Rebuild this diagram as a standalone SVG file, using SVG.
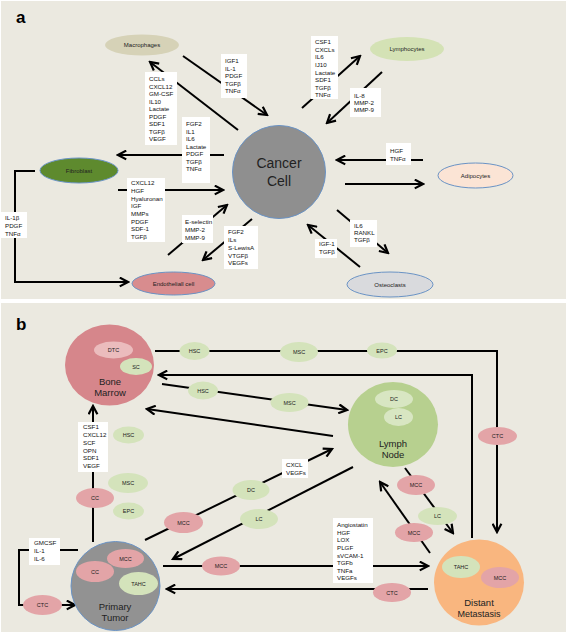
<svg xmlns="http://www.w3.org/2000/svg" width="567" height="633" viewBox="0 0 567 633">
<defs>
<marker id="ah" markerUnits="userSpaceOnUse" markerWidth="11" markerHeight="11" viewBox="0 0 10 10" refX="8.5" refY="5" orient="auto">
<path d="M1,1 L8.5,5 L1,9" fill="none" stroke="#000" stroke-width="2"/>
</marker>
</defs>
<style>
.bg{fill:#ebe9e0}
.c{fill:none;stroke:#000;stroke-width:2}
.a{marker-end:url(#ah)}
.box{fill:#fff}
.bt{font-family:"Liberation Sans",Arial,sans-serif;font-size:6.2px;fill:#111}
.nl{font-family:"Liberation Sans",Arial,sans-serif;font-size:6px;fill:#222;text-anchor:middle}
.sl{font-family:"Liberation Sans",Arial,sans-serif;font-size:5.5px;fill:#222;text-anchor:middle}
.big{font-family:"Liberation Sans",Arial,sans-serif;font-size:9.5px;fill:#222;text-anchor:middle}
.pl{font-family:"Liberation Sans",Arial,sans-serif;font-size:17px;font-weight:bold;fill:#000}
.bl{stroke:#6a93c5;stroke-width:1}
.pk{fill:#e3a4a7}
.gr{fill:#d4e3bb}
</style>
<rect x="0" y="0" width="567" height="633" fill="#fff"/>
<rect class="bg" x="1" y="1" width="565" height="298"/>
<rect class="bg" x="1" y="303" width="565" height="329"/>
<text class="pl" x="16" y="23">a</text>
<text class="pl" x="16" y="330">b</text>

<g id="connectors">
<path class="c a" d="M238,130 L150,62"/>
<path class="c a" d="M183,56 L267,115"/>
<path class="c a" d="M302,108 L360,56"/>
<path class="c a" d="M382,72 L327,123"/>
<path class="c a" d="M224,155 H118"/>
<path class="c a" d="M118,190 H223"/>
<path class="c a" d="M35,171 H15 V282 H128"/>
<path class="c a" d="M168,255 L227,205"/>
<path class="c a" d="M252,219 L203,260"/>
<path class="c a" d="M423,160 H337"/>
<path class="c a" d="M345,184 H423"/>
<path class="c a" d="M337,210 L388,253"/>
<path class="c a" d="M360,267 L308,225"/>

<path class="c a" d="M155,351 H497 V532"/>
<path class="c a" d="M472,538 V375 H159"/>
<path class="c a" d="M162,384 L347,410"/>
<path class="c a" d="M333,436 L147,409"/>
<path class="c a" d="M93,542 V406"/>
<path class="c a" d="M78,550 H19 V605 H75"/>
<path class="c a" d="M145,540 L332,449"/>
<path class="c a" d="M353,467 L173,559"/>
<path class="c a" d="M163,566 H428"/>
<path class="c a" d="M428,589 H167"/>
<path class="c a" d="M430,553 L380,482"/>
<path class="c a" d="M405,468 L453,533"/>
</g>

<g id="labels">
<rect class="box" x="145" y="72" width="32" height="73"/>
<text class="bt" x="149"><tspan x="149" y="81.2">CCLs</tspan><tspan x="149" y="88.7">CXCL12</tspan><tspan x="149" y="96.2">GM-CSF</tspan><tspan x="149" y="103.7">IL10</tspan><tspan x="149" y="111.2">Lactate</tspan><tspan x="149" y="118.7">PDGF</tspan><tspan x="149" y="126.2">SDF1</tspan><tspan x="149" y="133.7">TGFβ</tspan><tspan x="149" y="141.2">VEGF</tspan></text>
<rect class="box" x="182" y="117" width="28" height="66"/>
<text class="bt"><tspan x="186" y="126.2">FGF2</tspan><tspan x="186" y="133.7">IL1</tspan><tspan x="186" y="141.2">IL6</tspan><tspan x="186" y="148.7">Lactate</tspan><tspan x="186" y="156.2">PDGF</tspan><tspan x="186" y="163.7">TGFβ</tspan><tspan x="186" y="171.2">TNFα</tspan></text>
<rect class="box" x="221" y="54" width="26" height="44"/>
<text class="bt"><tspan x="225" y="63.2">IGF1</tspan><tspan x="225" y="70.7">IL-1</tspan><tspan x="225" y="78.2">PDGF</tspan><tspan x="225" y="85.7">TGFβ</tspan><tspan x="225" y="93.2">TNFα</tspan></text>
<rect class="box" x="311" y="36" width="27" height="63"/>
<text class="bt"><tspan x="315" y="44.2">CSF1</tspan><tspan x="315" y="51.8">CXCLs</tspan><tspan x="315" y="59.3">IL6</tspan><tspan x="315" y="66.9">IJ10</tspan><tspan x="315" y="74.5">Lactate</tspan><tspan x="315" y="82.1">SDF1</tspan><tspan x="315" y="89.6">TGFβ</tspan><tspan x="315" y="97.2">TNFα</tspan></text>
<rect class="box" x="350" y="88" width="31" height="29"/>
<text class="bt"><tspan x="354" y="97.7">IL-8</tspan><tspan x="354" y="104.7">MMP-2</tspan><tspan x="354" y="111.7">MMP-9</tspan></text>
<rect class="box" x="386" y="143" width="25" height="22"/>
<text class="bt"><tspan x="390" y="153.2">HGF</tspan><tspan x="390" y="161.2">TNFα</tspan></text>
<rect class="box" x="127" y="178" width="38" height="64"/>
<text class="bt"><tspan x="131" y="185.2">CXCL12</tspan><tspan x="131" y="192.9">HGF</tspan><tspan x="131" y="200.6">Hyaluronan</tspan><tspan x="131" y="208.3">IGF</tspan><tspan x="131" y="216">MMPs</tspan><tspan x="131" y="223.7">PDGF</tspan><tspan x="131" y="231.4">SDF-1</tspan><tspan x="131" y="239.1">TGFβ</tspan></text>
<rect class="box" x="1" y="212" width="26" height="26"/>
<text class="bt"><tspan x="5" y="220.2">IL-1β</tspan><tspan x="5" y="228.2">PDGF</tspan><tspan x="5" y="236.2">TNFα</tspan></text>
<rect class="box" x="182" y="215" width="31" height="28"/>
<text class="bt"><tspan x="185" y="224.2">E-selectin</tspan><tspan x="185" y="232.2">MMP-2</tspan><tspan x="185" y="240.2">MMP-9</tspan></text>
<rect class="box" x="224" y="226" width="34" height="43"/>
<text class="bt"><tspan x="228" y="234.2">FGF2</tspan><tspan x="228" y="242">ILs</tspan><tspan x="228" y="249.7">S-LewisA</tspan><tspan x="228" y="257.5">VTGFβ</tspan><tspan x="228" y="265.2">VEGFs</tspan></text>
<rect class="box" x="315" y="239" width="22" height="19"/>
<text class="bt"><tspan x="319" y="246.2">IGF-1</tspan><tspan x="319" y="254.2">TGFβ</tspan></text>
<rect class="box" x="350" y="220" width="27" height="27"/>
<text class="bt"><tspan x="354" y="228.2">IL6</tspan><tspan x="354" y="235.2">RANKL</tspan><tspan x="354" y="242.2">TGFβ</tspan></text>

<rect class="box" x="78" y="422" width="30" height="50"/>
<text class="bt"><tspan x="83" y="429.2">CSF1</tspan><tspan x="83" y="437">CXCL12</tspan><tspan x="83" y="444.8">SCF</tspan><tspan x="83" y="452.6">OPN</tspan><tspan x="83" y="460.4">SDF1</tspan><tspan x="83" y="468.2">VEGF</tspan></text>
<rect class="box" x="29" y="538" width="31" height="27"/>
<text class="bt"><tspan x="34" y="545.2">GMCSF</tspan><tspan x="34" y="553.2">IL-1</tspan><tspan x="34" y="561.2">IL-6</tspan></text>
<rect class="box" x="282" y="459" width="26" height="19"/>
<text class="bt"><tspan x="286" y="467.2">CXCL</tspan><tspan x="286" y="475.2">VEGFs</tspan></text>
<rect class="box" x="333" y="518" width="40" height="65"/>
<text class="bt"><tspan x="337" y="527.2">Angiostatin</tspan><tspan x="337" y="534.8">HGF</tspan><tspan x="337" y="542.3">LOX</tspan><tspan x="337" y="549.9">PLGF</tspan><tspan x="337" y="557.5">sVCAM-1</tspan><tspan x="337" y="565.1">TGFb</tspan><tspan x="337" y="572.6">TNFa</tspan><tspan x="337" y="580.2">VEGFs</tspan></text>
</g>

<g id="macrophages"><ellipse cx="142" cy="45" rx="37" ry="10.5" fill="#d6d2b7"/><text class="nl" x="142" y="47">Macrophages</text></g>
<g id="lymphocytes"><ellipse cx="407" cy="49" rx="37" ry="12" fill="#d4e2b5"/><text class="nl" x="407" y="51">Lymphocytes</text></g>
<g id="cancer-cell"><circle cx="279" cy="172" r="46.5" fill="#8f8f8f" class="bl"/><text class="big" style="font-size:14px" x="279" y="168">Cancer</text><text class="big" style="font-size:14px" x="279" y="186">Cell</text></g>
<g id="fibroblast"><ellipse cx="79" cy="170.5" rx="39" ry="12.5" fill="#5e8a2e" class="bl"/><text class="nl" x="79" y="172.5">Fibroblast</text></g>
<g id="endothelial"><ellipse cx="173.5" cy="283.5" rx="41.5" ry="11.5" fill="#d88c8e" class="bl"/><text class="nl" x="173.5" y="285.5">Endotheliall cell</text></g>
<g id="adipocytes"><ellipse cx="475.5" cy="175.5" rx="37.5" ry="12.5" fill="#fbe4d5" class="bl"/><text class="nl" x="475.5" y="177.5">Adipocytes</text></g>
<g id="osteoclasts"><ellipse cx="390" cy="284.5" rx="43" ry="12.5" fill="#d9dadd" class="bl"/><text class="nl" x="390" y="286.5">Osteoclasts</text></g>

<g id="bone-marrow"><ellipse cx="109.5" cy="365" rx="44.5" ry="40.5" fill="#d6868b"/>
<ellipse cx="113.5" cy="350" rx="19.5" ry="8.5" fill="#ebbcbd"/><text class="sl" x="113.5" y="352">DTC</text>
<ellipse cx="136" cy="366.5" rx="16" ry="8.5" class="gr"/><text class="sl" x="136" y="368.5">SC</text>
<text class="big" x="110" y="385">Bone</text><text class="big" x="110" y="396">Marrow</text></g>
<g id="lymph-node"><ellipse cx="393" cy="424.5" rx="45" ry="42.5" fill="#b7d08f"/>
<ellipse cx="394" cy="399" rx="19" ry="9" fill="#d8e6c2"/><text class="sl" x="394" y="401">DC</text>
<ellipse cx="398.5" cy="417" rx="14.5" ry="9" fill="#d8e6c2"/><text class="sl" x="398.5" y="419">LC</text>
<text class="big" x="393" y="447">Lymph</text><text class="big" x="393" y="458">Node</text></g>
<g id="primary-tumor"><circle cx="115.5" cy="586" r="44.5" fill="#929292" class="bl"/>
<ellipse cx="125.5" cy="558.5" rx="18.5" ry="9.5" class="pk"/><text class="sl" x="125.5" y="560.5">MCC</text>
<ellipse cx="95" cy="571.5" rx="19" ry="10.5" class="pk"/><text class="sl" x="95" y="573.5">CC</text>
<ellipse cx="138.5" cy="583.5" rx="19.5" ry="11.5" class="gr"/><text class="sl" x="138.5" y="585.5">TAHC</text>
<text class="big" x="115" y="610">Primary</text><text class="big" x="115" y="621">Tumor</text></g>
<g id="distant-metastasis"><ellipse cx="479" cy="582.5" rx="45" ry="43" fill="#f9b67f"/>
<ellipse cx="461" cy="567" rx="19" ry="11" class="gr"/><text class="sl" x="461" y="569">TAHC</text>
<ellipse cx="500" cy="577.5" rx="19" ry="10.5" class="pk"/><text class="sl" x="500" y="579.5">MCC</text>
<text class="big" x="479" y="606">Distant</text><text class="big" style="font-size:9px" x="479" y="617">Metastasis</text></g>

<g id="hsc-top"><ellipse cx="194.5" cy="351" rx="15" ry="9" class="gr"/><text class="sl" x="194.5" y="353">HSC</text></g>
<g id="msc-top"><ellipse cx="299" cy="352" rx="19" ry="10" class="gr"/><text class="sl" x="299" y="354">MSC</text></g>
<g id="epc-top"><ellipse cx="382" cy="350.5" rx="15" ry="8" class="gr"/><text class="sl" x="382" y="352.5">EPC</text></g>
<g id="ctc-right"><ellipse cx="497.5" cy="436" rx="19.5" ry="9" class="pk"/><text class="sl" x="497.5" y="438">CTC</text></g>
<g id="hsc-mid"><ellipse cx="203" cy="390.5" rx="15" ry="9" class="gr"/><text class="sl" x="203" y="392.5">HSC</text></g>
<g id="msc-mid"><ellipse cx="289.5" cy="402.5" rx="19" ry="9.5" class="gr"/><text class="sl" x="289.5" y="404.5">MSC</text></g>
<g id="hsc-low"><ellipse cx="128.5" cy="435" rx="15.5" ry="8.5" class="gr"/><text class="sl" x="128.5" y="437">HSC</text></g>
<g id="msc-low"><ellipse cx="128" cy="483" rx="20" ry="10" class="gr"/><text class="sl" x="128" y="485">MSC</text></g>
<g id="epc-low"><ellipse cx="128.5" cy="511" rx="15.5" ry="8.5" class="gr"/><text class="sl" x="128.5" y="513">EPC</text></g>
<g id="cc-low"><ellipse cx="95" cy="498" rx="19" ry="10" class="pk"/><text class="sl" x="95" y="500">CC</text></g>
<g id="ctc-left"><ellipse cx="42.5" cy="605" rx="19.5" ry="10" class="pk"/><text class="sl" x="42.5" y="607">CTC</text></g>
<g id="mcc-a"><ellipse cx="183.5" cy="522.5" rx="19.5" ry="10.5" class="pk"/><text class="sl" x="183.5" y="524.5">MCC</text></g>
<g id="dc-mid"><ellipse cx="251" cy="490" rx="18.5" ry="10" class="gr"/><text class="sl" x="251" y="492">DC</text></g>
<g id="lc-mid"><ellipse cx="259" cy="519" rx="19" ry="10" class="gr"/><text class="sl" x="259" y="521">LC</text></g>
<g id="mcc-b"><ellipse cx="221" cy="566" rx="19" ry="9.5" class="pk"/><text class="sl" x="221" y="568">MCC</text></g>
<g id="ctc-bottom"><ellipse cx="392" cy="592.5" rx="19" ry="9.5" class="pk"/><text class="sl" x="392" y="594.5">CTC</text></g>
<g id="mcc-c"><ellipse cx="414" cy="532.5" rx="19" ry="9.5" class="pk"/><text class="sl" x="414" y="534.5">MCC</text></g>
<g id="mcc-d"><ellipse cx="416" cy="485" rx="19" ry="10" class="pk"/><text class="sl" x="416" y="487">MCC</text></g>
<g id="lc-right"><ellipse cx="437.5" cy="516" rx="19.5" ry="9" class="gr"/><text class="sl" x="437.5" y="518">LC</text></g>
</svg>
